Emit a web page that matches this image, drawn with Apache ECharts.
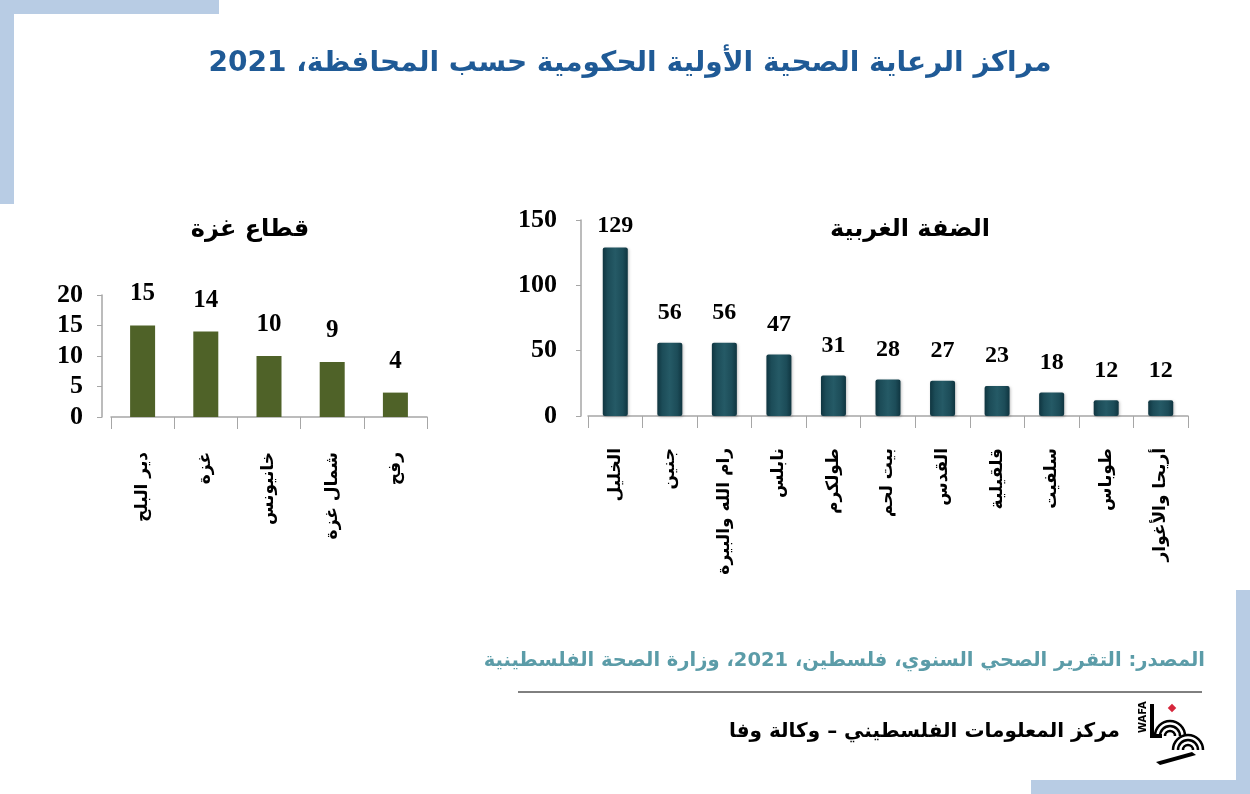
<!DOCTYPE html>
<html>
<head>
<meta charset="utf-8">
<script src="https://cdn.jsdelivr.net/npm/echarts@6/dist/echarts.min.js"></script>
<style>
  html, body { margin: 0; padding: 0; background: #fff; }
  #main { width: 1250px; height: 794px; }
</style>
</head>
<body>
<div id="main"></div>
<script>
// Gaza Strip
const gazaCategories = ['دير البلح', 'غزة', 'خانيونس', 'شمال غزة', 'رفح'];
const gazaValues = [15, 14, 10, 9, 4];

// West Bank
const westCategories = ['الخليل', 'جنين', 'رام الله والبيرة', 'نابلس', 'طولكرم', 'بيت لحم', 'القدس', 'قلقيلية', 'سلفيت', 'طوباس', 'أريحا والأغوار'];
const westValues = [129, 56, 56, 47, 31, 28, 27, 23, 18, 12, 12];

const arabicFont = '"DejaVu Sans", sans-serif';
const numFont = '"Liberation Serif", "Times New Roman", serif';
const decor = '#b8cce4';

const chart = echarts.init(document.getElementById('main'));

const axisGray = { lineStyle: { color: '#a6a6a6', width: 1.5 } };

const option = {
  backgroundColor: '#ffffff',
  animation: false,
  title: [
    {
      text: 'مراكز الرعاية الصحية الأولية الحكومية حسب المحافظة، 2021',
      left: 625, top: 45, textAlign: 'center',
      textStyle: { fontFamily: arabicFont, fontSize: 28, fontWeight: 'bold', color: '#1f5a96' }
    },
    {
      text: 'الضفة الغربية',
      left: 905, top: 213, textAlign: 'center',
      textStyle: { fontFamily: arabicFont, fontSize: 24, fontWeight: 'bold', color: '#000' }
    },
    {
      text: 'قطاع غزة',
      left: 245, top: 213, textAlign: 'center',
      textStyle: { fontFamily: arabicFont, fontSize: 24, fontWeight: 'bold', color: '#000' }
    }
  ],
  grid: [
    { left: 111, top: 295, width: 316, height: 122 },
    { left: 588, top: 220, width: 600, height: 196 }
  ],
  xAxis: [
    {
      type: 'category', gridIndex: 0, data: gazaCategories,
      axisLine: axisGray,
      axisTick: { show: true, length: 12, lineStyle: { color: '#a6a6a6' } },
      axisLabel: { rotate: 90, margin: 35, fontFamily: arabicFont, fontSize: 17, fontWeight: 'bold', color: '#000' }
    },
    {
      type: 'category', gridIndex: 1, data: westCategories,
      axisLine: axisGray,
      axisTick: { show: true, length: 12, lineStyle: { color: '#a6a6a6' } },
      axisLabel: { rotate: 90, margin: 32, fontFamily: arabicFont, fontSize: 17, fontWeight: 'bold', color: '#000' }
    }
  ],
  yAxis: [
    {
      type: 'value', gridIndex: 0, min: 0, max: 20, interval: 5, offset: 9,
      splitLine: { show: false },
      axisLine: { show: true, lineStyle: { color: '#a6a6a6', width: 1.5 } },
      axisTick: { show: true, length: 5, lineStyle: { color: '#a6a6a6' } },
      axisLabel: { margin: 19, fontFamily: numFont, fontSize: 26, fontWeight: 'bold', color: '#000' }
    },
    {
      type: 'value', gridIndex: 1, min: 0, max: 150, interval: 50, offset: 7,
      splitLine: { show: false },
      axisLine: { show: true, lineStyle: { color: '#a6a6a6', width: 1.5 } },
      axisTick: { show: true, length: 5, lineStyle: { color: '#a6a6a6' } },
      axisLabel: { margin: 24, fontFamily: numFont, fontSize: 26, fontWeight: 'bold', color: '#000' }
    }
  ],
  series: [
    {
      type: 'bar', xAxisIndex: 0, yAxisIndex: 0, data: gazaValues,
      barWidth: 25,
      itemStyle: { color: '#4f6228' },
      label: {
        show: true, position: 'top', distance: 19,
        fontFamily: numFont, fontSize: 25, fontWeight: 'bold', color: '#000'
      }
    },
    {
      type: 'bar', xAxisIndex: 1, yAxisIndex: 1,
      data: westValues.map((v, i) => i === 0 ? { value: v, label: { distance: 10 } } : v),
      barWidth: 25,
      itemStyle: {
        borderRadius: 2,
        color: new echarts.graphic.LinearGradient(0, 0, 1, 0, [
          { offset: 0, color: '#0f3540' },
          { offset: 0.2, color: '#1c4c58' },
          { offset: 0.5, color: '#255a66' },
          { offset: 0.8, color: '#1c4c58' },
          { offset: 1, color: '#0f3540' }
        ]),
        shadowColor: 'rgba(0,0,0,0.25)', shadowBlur: 3, shadowOffsetX: 1, shadowOffsetY: 1
      },
      label: {
        show: true, position: 'top', distance: 18,
        fontFamily: numFont, fontSize: 24, fontWeight: 'bold', color: '#000'
      }
    }
  ],
  graphic: [
    // decorative corner bands
    { type: 'rect', shape: { x: 0, y: 0, width: 219, height: 14 }, style: { fill: decor } },
    { type: 'rect', shape: { x: 0, y: 0, width: 14, height: 204 }, style: { fill: decor } },
    { type: 'rect', shape: { x: 1236, y: 590, width: 14, height: 204 }, style: { fill: decor } },
    { type: 'rect', shape: { x: 1031, y: 780, width: 219, height: 14 }, style: { fill: decor } },
    // source
    {
      type: 'text', right: 45, top: 651,
      style: {
        text: 'المصدر: التقرير الصحي السنوي، فلسطين، 2021، وزارة الصحة الفلسطينية',
        font: 'bold 19.5px "DejaVu Sans", sans-serif', fill: '#5b9ca8'
      }
    },
    { type: 'line', shape: { x1: 518, y1: 692, x2: 1202, y2: 692 }, style: { stroke: '#000', lineWidth: 1 } },
    {
      type: 'text', right: 130, top: 722,
      style: {
        text: 'مركز المعلومات الفلسطيني – وكالة وفا',
        font: 'bold 20px "DejaVu Sans", sans-serif', fill: '#000'
      }
    },
    // WAFA logo (simplified)
    {
      type: 'text', x: 1138, y: 733, rotation: Math.PI / 2,
      style: { text: 'WAFA', font: 'bold 10px "DejaVu Sans", sans-serif', fill: '#000' }
    },
    { type: 'rect', shape: { x: 1150, y: 704, width: 4, height: 34 }, style: { fill: '#000' } },
    { type: 'rect', shape: { x: 1150, y: 734, width: 12, height: 4 }, style: { fill: '#000' } },
    {
      type: 'rect', x: 1172, y: 708, rotation: Math.PI / 4,
      shape: { x: -3, y: -3, width: 6, height: 6 }, style: { fill: '#d6263b' }
    },
    { type: 'arc', shape: { cx: 1170, cy: 736, r: 5, startAngle: Math.PI, endAngle: 2 * Math.PI }, style: { stroke: '#000', lineWidth: 2.5, fill: null } },
    { type: 'arc', shape: { cx: 1170, cy: 736, r: 10, startAngle: Math.PI, endAngle: 2 * Math.PI }, style: { stroke: '#000', lineWidth: 2.5, fill: null } },
    { type: 'arc', shape: { cx: 1170, cy: 736, r: 15, startAngle: Math.PI, endAngle: 2 * Math.PI }, style: { stroke: '#000', lineWidth: 2.5, fill: null } },
    { type: 'arc', shape: { cx: 1188, cy: 750, r: 5, startAngle: Math.PI, endAngle: 2 * Math.PI }, style: { stroke: '#000', lineWidth: 2.5, fill: null } },
    { type: 'arc', shape: { cx: 1188, cy: 750, r: 10, startAngle: Math.PI, endAngle: 2 * Math.PI }, style: { stroke: '#000', lineWidth: 2.5, fill: null } },
    { type: 'arc', shape: { cx: 1188, cy: 750, r: 15, startAngle: Math.PI, endAngle: 2 * Math.PI }, style: { stroke: '#000', lineWidth: 2.5, fill: null } },
    { type: 'polygon', shape: { points: [[1156, 762], [1192, 752], [1196, 755], [1160, 765]] }, style: { fill: '#000' } }
  ]
};

chart.setOption(option);
</script>
</body>
</html>
